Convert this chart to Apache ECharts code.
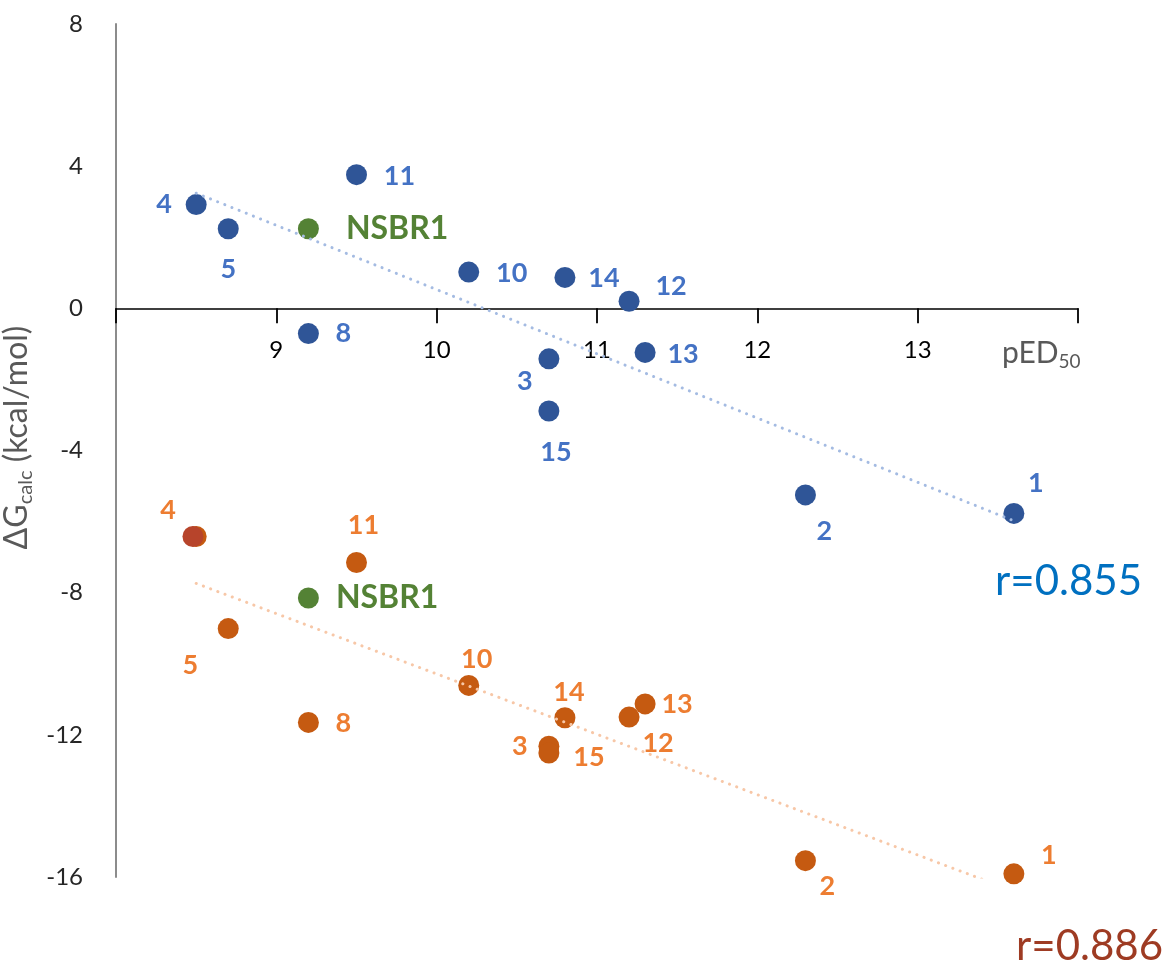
<!DOCTYPE html>
<html>
<head>
<meta charset="utf-8">
<script src="https://cdn.jsdelivr.net/npm/echarts@6/dist/echarts.min.js"></script>
<style>
  html, body { margin: 0; padding: 0; background: #fff; }
  #chart { width: 1166px; height: 964px; }
</style>
</head>
<body>
<div id="chart"></div>
<script>
// ---- Data ----
const compounds = ['4', '5', '8', '11', '10', '14', '12', '13', '3', '15', '2', '1'];
const pED50 = [8.5, 8.7, 9.2, 9.5, 10.2, 10.8, 11.2, 11.3, 10.7, 10.7, 12.3, 13.6];
const dGBlue = [2.92, 2.24, -0.71, 3.76, 1.02, 0.87, 0.20, -1.24, -1.42, -2.89, -5.25, -5.77];
const dGOrange = [-6.42, -9.01, -11.65, -7.15, -10.61, -11.52, -11.50, -11.13, -12.32, -12.51, -15.54, -15.91];

const refName = 'NSBR1';
const refX = 9.2;
const refBlueY = 2.24;
const refOrangeY = -8.15;

// highlighted point (darker red) drawn over orange "4"
const highlightX = [8.48];
const highlightY = [-6.42];

// trendline end points
const blueTrendX = [8.5, 13.6];
const blueTrendY = [3.24, -5.98];
const orangeTrendX = [8.5, 13.6];
const orangeTrendY = [-7.74, -16.4];

const xTickLabels = [9, 10, 11, 12, 13];

// ---- Label placement (style only) ----
const blueLabelOffset = {
  '4': [-32, 0], '5': [0, 41], '8': [35, 0], '11': [43, 2], '10': [43, 1],
  '14': [39, 1], '12': [42, -15], '13': [38, 2], '3': [-24, 22], '15': [7, 41],
  '2': [19, 36], '1': [22, -30]
};
const orangeLabelOffset = {
  '4': [-28, -26], '5': [-38, 37], '8': [35, 1], '11': [7, -37], '10': [8, -26],
  '14': [4, -25], '12': [29, 26], '13': [32, 0], '3': [-29, 0], '15': [40, 4],
  '2': [22, 26], '1': [35, -19]
};

const BLUE = '#2F5597', BLUE_LBL = '#4472C4';
const ORANGE = '#C55A11', ORANGE_LBL = '#ED7D31';
const GREEN = '#548235';
const FONT = 'Lato, "Open Sans", sans-serif';

const labelBase = { show: true, position: 'inside', formatter: '{b}', fontFamily: FONT, fontWeight: 'bold', fontSize: 27, align: 'center', verticalAlign: 'middle' };

function pts(xs, ys, names, offsets) {
  return xs.map((x, i) => ({ name: names[i], value: [x, ys[i]], label: { offset: offsets[names[i]] } }));
}
function line(xs, ys) { return xs.map((x, i) => [x, ys[i]]); }

// grid geometry
const GRID_TOP = 24, GRID_BOTTOM = 87, Y_MIN = -16, Y_MAX = 8;
const plotH = 964 - GRID_TOP - GRID_BOTTOM;
// the x axis crosses the y axis at y = 0: shift it up from the grid bottom
const zeroShift = -plotH * (0 - Y_MIN) / (Y_MAX - Y_MIN);

const chart = echarts.init(document.getElementById('chart'), null, { renderer: 'canvas' });

const option = {
  animation: false,
  backgroundColor: '#ffffff',
  grid: { left: 116, right: 88, top: GRID_TOP, bottom: GRID_BOTTOM, containLabel: false, outerBoundsMode: 'none' },
  xAxis: {
    type: 'value', min: 8, max: 14, interval: 1, position: 'bottom', offset: zeroShift,
    axisLine: { show: true, onZero: false, lineStyle: { color: '#000000', width: 1.5 } },
    axisTick: { show: true, inside: false, length: 15, lineStyle: { color: '#000000', width: 1.8 } },
    axisLabel: {
      show: true, margin: 30, color: '#000000', fontFamily: FONT, fontSize: 24,
      showMinLabel: true, showMaxLabel: true,
      formatter: v => (xTickLabels.indexOf(v) >= 0 ? String(v) : '')
    },
    splitLine: { show: false }
  },
  yAxis: {
    type: 'value', min: Y_MIN, max: Y_MAX, interval: 4,
    axisLine: { show: true, onZero: false, lineStyle: { color: '#8c8c8c', width: 2 } },
    axisTick: { show: false },
    axisLabel: { margin: 33, color: '#262626', fontFamily: FONT, fontSize: 24 },
    splitLine: { show: false },
    name: '{g|ΔG}{s|calc}{g| (kcal/mol)}',
    nameLocation: 'middle', nameGap: 64, nameRotate: 90,
    nameTextStyle: {
      color: '#595959', fontFamily: FONT, fontSize: 32, padding: [0, 0, 0, 26],
      rich: {
        g: { color: '#595959', fontFamily: FONT, fontSize: 32, lineHeight: 38 },
        s: { color: '#595959', fontFamily: FONT, fontSize: 20, lineHeight: 17, verticalAlign: 'bottom' }
      }
    }
  },
  graphic: [
    {
      type: 'text', x: 1002, y: 335,
      style: {
        text: '{p|pED}{s|50}',
        rich: {
          p: { fontFamily: FONT, fontSize: 30, fill: '#595959', lineHeight: 36 },
          s: { fontFamily: FONT, fontSize: 19, fill: '#595959', lineHeight: 16, verticalAlign: 'bottom' }
        }
      }
    },
    { type: 'text', x: 995, y: 581, style: { text: 'r=0.855', font: '42px ' + FONT, fill: '#0070C0', align: 'left', verticalAlign: 'middle' } },
    { type: 'text', x: 1016, y: 946, style: { text: 'r=0.886', font: '42px ' + FONT, fill: '#9E3B23', align: 'left', verticalAlign: 'middle' } }
  ],
  series: [
    {
      type: 'scatter', name: 'blue', symbol: 'circle', symbolSize: 21,
      itemStyle: { color: BLUE, opacity: 1 },
      label: Object.assign({}, labelBase, { color: BLUE_LBL }),
      data: pts(pED50, dGBlue, compounds, blueLabelOffset)
    },
    {
      type: 'scatter', name: 'orange', symbol: 'circle', symbolSize: 21,
      itemStyle: { color: ORANGE, opacity: 1 },
      label: Object.assign({}, labelBase, { color: ORANGE_LBL }),
      data: pts(pED50, dGOrange, compounds, orangeLabelOffset)
    },
    {
      type: 'scatter', name: 'highlight', symbol: 'circle', symbolSize: 21,
      itemStyle: { color: '#B7442B', opacity: 1 },
      data: line(highlightX, highlightY)
    },
    {
      type: 'scatter', name: 'ref', symbol: 'circle', symbolSize: 21,
      itemStyle: { color: GREEN, opacity: 1 },
      label: { show: true, formatter: '{b}', color: GREEN, fontFamily: FONT, fontWeight: 'bold', fontSize: 32 },
      data: [
        { name: refName, value: [refX, refBlueY], label: { position: 'right', distance: 27 } },
        { name: refName, value: [refX, refOrangeY], label: { position: 'right', distance: 17 } }
      ]
    },
    {
      type: 'line', name: 'blueTrend', symbol: 'none', showSymbol: false, clip: true, silent: true,
      lineStyle: { color: '#A4BBE2', width: 3, type: [0.1, 7.6], cap: 'round' },
      data: line(blueTrendX, blueTrendY)
    },
    {
      type: 'line', name: 'orangeTrend', symbol: 'none', showSymbol: false, clip: true, silent: true,
      lineStyle: { color: '#F7C7A7', width: 3, type: [0.1, 7.6], cap: 'round' },
      data: line(orangeTrendX, orangeTrendY)
    }
  ]
};
chart.setOption(option);
</script>
</body>
</html>
